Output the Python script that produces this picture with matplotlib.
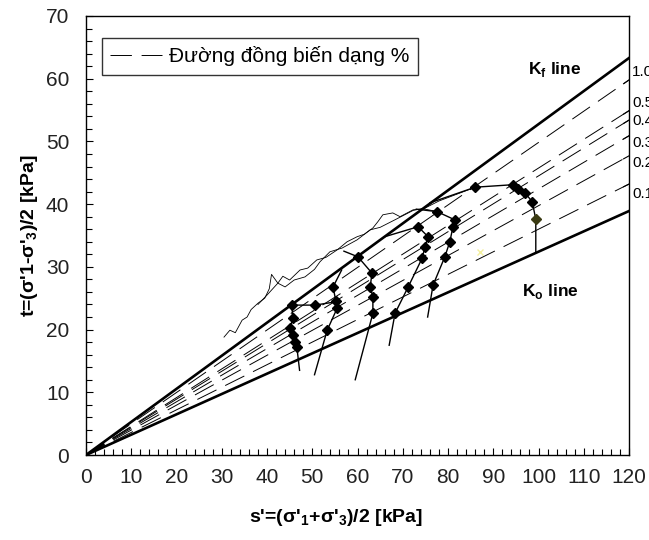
import matplotlib
matplotlib.use("Agg")
import matplotlib.pyplot as plt
import numpy as np

plt.rcParams['font.family'] = ['Liberation Sans', 'DejaVu Sans']
plt.rcParams['mathtext.fontset'] = 'custom'
plt.rcParams['mathtext.rm'] = 'Liberation Sans'
plt.rcParams['mathtext.bf'] = 'Liberation Sans:bold'

# duong Kf, Ko (t tai s = 120)
s_max = 120
kf_end = 63.3
ko_end = 38.9

# duong dong bien dang (t tai s = 120) va nhan %
strain_end = [59.8, 54.9, 53.4, 50.9, 47.7, 43.2]
strain_lbl = ['1.0', '0.5', '0.4', '0.3', '0.2', '0.1']
lbl_t = [61.0, 56.1, 53.3, 49.8, 46.6, 41.6]

# cac duong ung suat co diem
p1_s = [47.2, 46.6, 46.2, 45.7, 45.1, 45.7, 45.5, 50.6, 55.0]
p1_t = [13.5, 17.2, 18.0, 19.1, 20.3, 21.8, 23.9, 23.9, 24.4]
p2_s = [50.5, 53.3, 55.5, 55.2, 54.6, 56.5]
p2_t = [12.8, 19.9, 23.4, 24.6, 26.8, 29.5]
p3_s = [59.5, 63.4, 63.4, 62.8, 63.2, 60.1, 57.0]
p3_t = [12.0, 22.6, 25.2, 26.8, 29.0, 31.6, 32.5]
p4_s = [67.0, 68.3, 71.2, 74.3, 74.9, 75.6, 73.4, 66.0]
p4_t = [17.5, 22.6, 26.8, 31.4, 33.2, 34.8, 36.4, 34.8]
p5_s = [75.5, 76.7, 79.3, 80.4, 81.1, 81.5, 77.6, 73.0]
p5_t = [22.0, 27.1, 31.6, 34.0, 36.4, 37.5, 38.8, 39.2]
p6_s = [99.4, 99.4, 98.6, 97.0, 95.5, 94.4, 86.0, 76.0]
p6_t = [32.4, 37.6, 40.4, 41.8, 42.4, 43.1, 42.7, 40.2]

# duong mong khong diem
thin1_s = [30.5, 31.8, 33.0, 34.5, 35.6, 36.5, 38.0, 39.5, 40.5, 41.0, 42.4, 43.5,
           45.0, 47.3, 49.0, 51.0, 53.0, 55.5, 57.7, 59.9, 61.5, 63.4, 64.5, 65.6,
           67.8, 69.4, 72.3, 74.9, 77.8]
thin1_t = [18.8, 19.9, 19.5, 21.5, 22.0, 23.2, 24.2, 25.0, 26.5, 28.8, 27.4, 28.5,
           27.9, 29.5, 29.8, 31.1, 31.5, 32.7, 34.0, 34.8, 35.2, 36.2, 37.2, 38.3,
           38.6, 38.0, 39.1, 39.2, 38.8]
thin2_s = [38.0, 40.0, 42.4, 44.0, 46.0, 48.4, 50.5, 51.7, 53.9, 56.6, 59.9, 62.8,
           65.0, 68.0, 72.3, 75.0, 78.0, 86.0]
thin2_t = [24.0, 25.5, 27.4, 26.8, 27.9, 28.4, 29.6, 30.8, 32.4, 33.0, 34.3, 35.9,
           36.3, 37.4, 39.0, 39.4, 40.5, 42.7]

fig = plt.figure(figsize=(6.49, 5.40), dpi=100)
ax = fig.add_axes([0.1325, 0.1574, 0.8367, 0.8130])

xs = np.array([0, s_max])
ax.plot(xs, xs * kf_end / s_max, color='black', lw=1.9, zorder=4)
ax.plot(xs, xs * ko_end / s_max, color='black', lw=1.9, zorder=4)

for i, (e, lb, ly) in enumerate(zip(strain_end, strain_lbl, lbl_t)):
    ax.plot(xs, xs * e / s_max, color='black', lw=0.7, dashes=(22, 10),
            label='Đường đồng biến dạng %' if i == 0 else None, zorder=2)
    ax.plot([s_max - 1.2, s_max], [e * (s_max - 1.2) / s_max, e], color='black', lw=0.8)
    ax.text(s_max + 0.7, ly, lb, fontsize=11, va='center', ha='left', clip_on=False)

for ss, tt in [(thin1_s, thin1_t), (thin2_s, thin2_t)]:
    ax.plot(ss, tt, color='black', lw=0.6, zorder=3)

mk = dict(color='black', lw=1.0, marker='D', markersize=5, zorder=5)
ax.plot(p1_s, p1_t, markevery=list(range(1, 8)), **mk)
ax.plot(p2_s, p2_t, markevery=[1, 2, 3, 4], **mk)
ax.plot(p3_s, p3_t, markevery=[1, 2, 3, 4, 5], **mk)
ax.plot(p4_s, p4_t, markevery=[1, 2, 3, 4, 5, 6], **mk)
ax.plot(p5_s, p5_t, markevery=[1, 2, 3, 4, 5, 6], **mk)
ax.plot(p6_s, p6_t, markevery=[2, 3, 4, 5, 6], **mk)
ax.plot(p6_s[1:2], p6_t[1:2], ls='none', marker='D', markersize=5, color='#3a3a12', zorder=6)
ax.plot([87.1], [32.4], ls='none', marker='x', markersize=4, color='#f3f0a0', zorder=6)

ax.text(97.7, 61.4, r'K$_\mathbf{f}$ line', fontsize=12.5, fontweight='bold', ha='left', va='center')
ax.text(96.4, 26.0, r'K$_\mathbf{o}$ line', fontsize=12.5, fontweight='bold', ha='left', va='center')

ax.set_xlim(0, 120)
ax.set_ylim(0, 70)
ax.set_xticks(np.arange(0, 121, 10))
ax.set_yticks(np.arange(0, 71, 10))
ax.set_xticks(np.arange(0, 121, 2), minor=True)
ax.set_yticks(np.arange(0, 71, 2), minor=True)
ax.tick_params(which='both', direction='in', top=False, right=False, labelsize=15,
               labelcolor='#222222')
ax.tick_params(axis='x', pad=9)
ax.tick_params(axis='y', pad=12)
ax.tick_params(which='major', length=5, width=0.8)
ax.tick_params(which='minor', length=4, width=0.8)
for sp in ax.spines.values():
    sp.set_linewidth(1.0)

ax.set_xlabel(r"s'=(σ'$_\mathbf{1}$+σ'$_\mathbf{3}$)/2 [kPa]", fontsize=14, fontweight='bold')
ax.set_ylabel(r"t=(σ'1-σ'$_\mathbf{3}$)/2 [kPa]", fontsize=14, fontweight='bold')
ax.xaxis.set_label_coords(0.46, -0.118)
ax.yaxis.set_label_coords(-0.085, 0.5)

leg = ax.legend(loc='upper left', bbox_to_anchor=(0.029, 0.95), borderaxespad=0,
                fontsize=15, frameon=True, fancybox=False, handlelength=2.5,
                borderpad=0.4, handletextpad=0.35)
leg.get_frame().set_edgecolor('black')
leg.get_frame().set_linewidth(1.0)

fig.savefig('out.png', dpi=100)
